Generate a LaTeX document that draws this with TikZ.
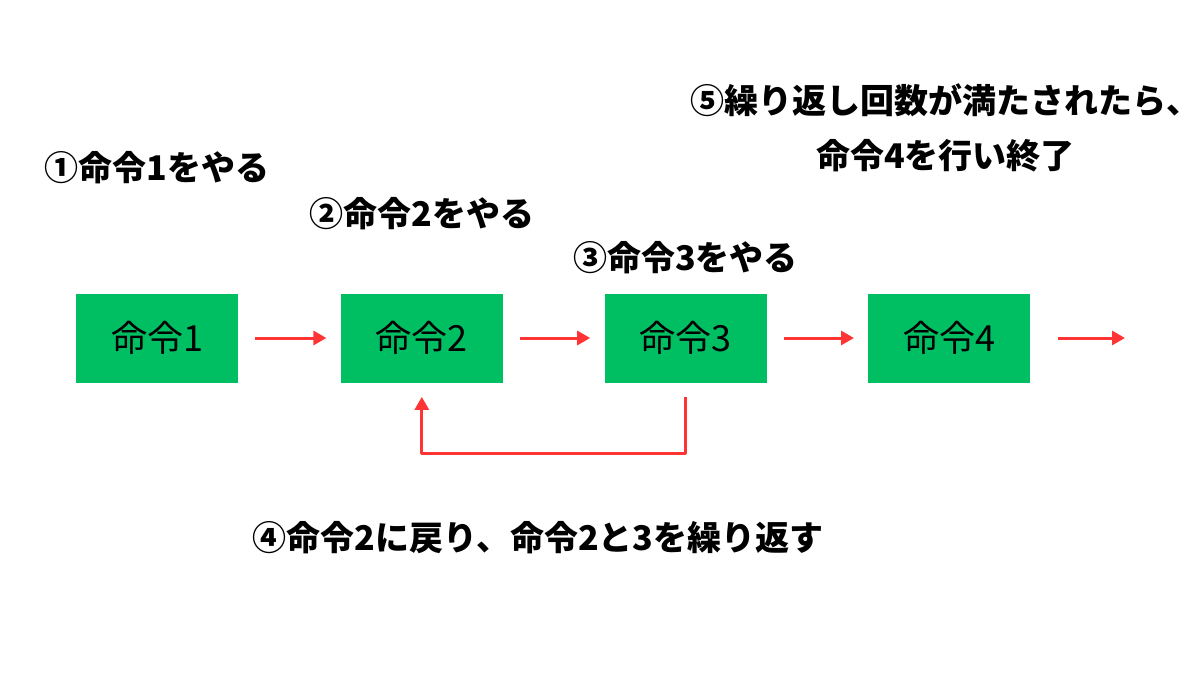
\documentclass[tikz,border=0pt]{standalone}
\usepackage{fontspec}
\newfontfamily\jpfont{Noto Sans CJK JP}
\usetikzlibrary{arrows.meta,positioning}
\definecolor{boxgreen}{HTML}{00BF63}
\definecolor{arrred}{HTML}{FF3535}
\tikzset{
	cmd/.style={fill=boxgreen, minimum width=81pt, minimum height=44.5pt, inner sep=0pt, font=\jpfont\fontsize{18pt}{20pt}\selectfont},
	lbl/.style={font=\jpfont\bfseries\fontsize{17pt}{27.5pt}\selectfont, align=center, inner sep=0pt},
	flow/.style={draw=arrred, line width=1.5pt, -{Triangle[length=6.5pt,width=7pt]}, shorten <=8.5pt, shorten >=7pt}
}
\begin{document}
\begin{tikzpicture}[x=0.5pt, y=-0.5pt, line join=round]
				\useasboundingbox (0,0) rectangle (1200,675);
				% boxes
				\node[cmd] (c1) at (157,338) {命令1};
				\node[cmd, right=51pt of c1] (c2) {命令2};
				\node[cmd, right=50.5pt of c2] (c3) {命令3};
				\node[cmd, right=50.5pt of c3] (c4) {命令4};
				\coordinate (out) at (1125,338);
				% labels
				\node[lbl] (s1) at ([yshift=62.5pt]c1.north) {①命令1をやる};
				\node[lbl] (s2) at ([yshift=39.5pt]c2.north) {②命令2をやる};
				\node[lbl] (s3) at ([yshift=17.5pt]c3.north) {③命令3をやる};
				\node[lbl] (s5) at ([xshift=-2pt, yshift=82.5pt]c4.north) {⑤繰り返し回数が満たされたら、\\命令4を行い終了};
				\node[lbl] (s4) at (538,538) {④命令2に戻り、命令2と3を繰り返す};
				% arrows
				\draw[flow] (c1) -- (c2);
				\draw[flow] (c2) -- (c3);
				\draw[flow] (c3) -- (c4);
				\draw[flow, shorten <=13.5pt, shorten >=0pt] (c4) -- (out);
				\draw[flow, shorten <=7pt] (c3.south) -- ++(0,71) -| (c2.south);
\end{tikzpicture}
\end{document}
